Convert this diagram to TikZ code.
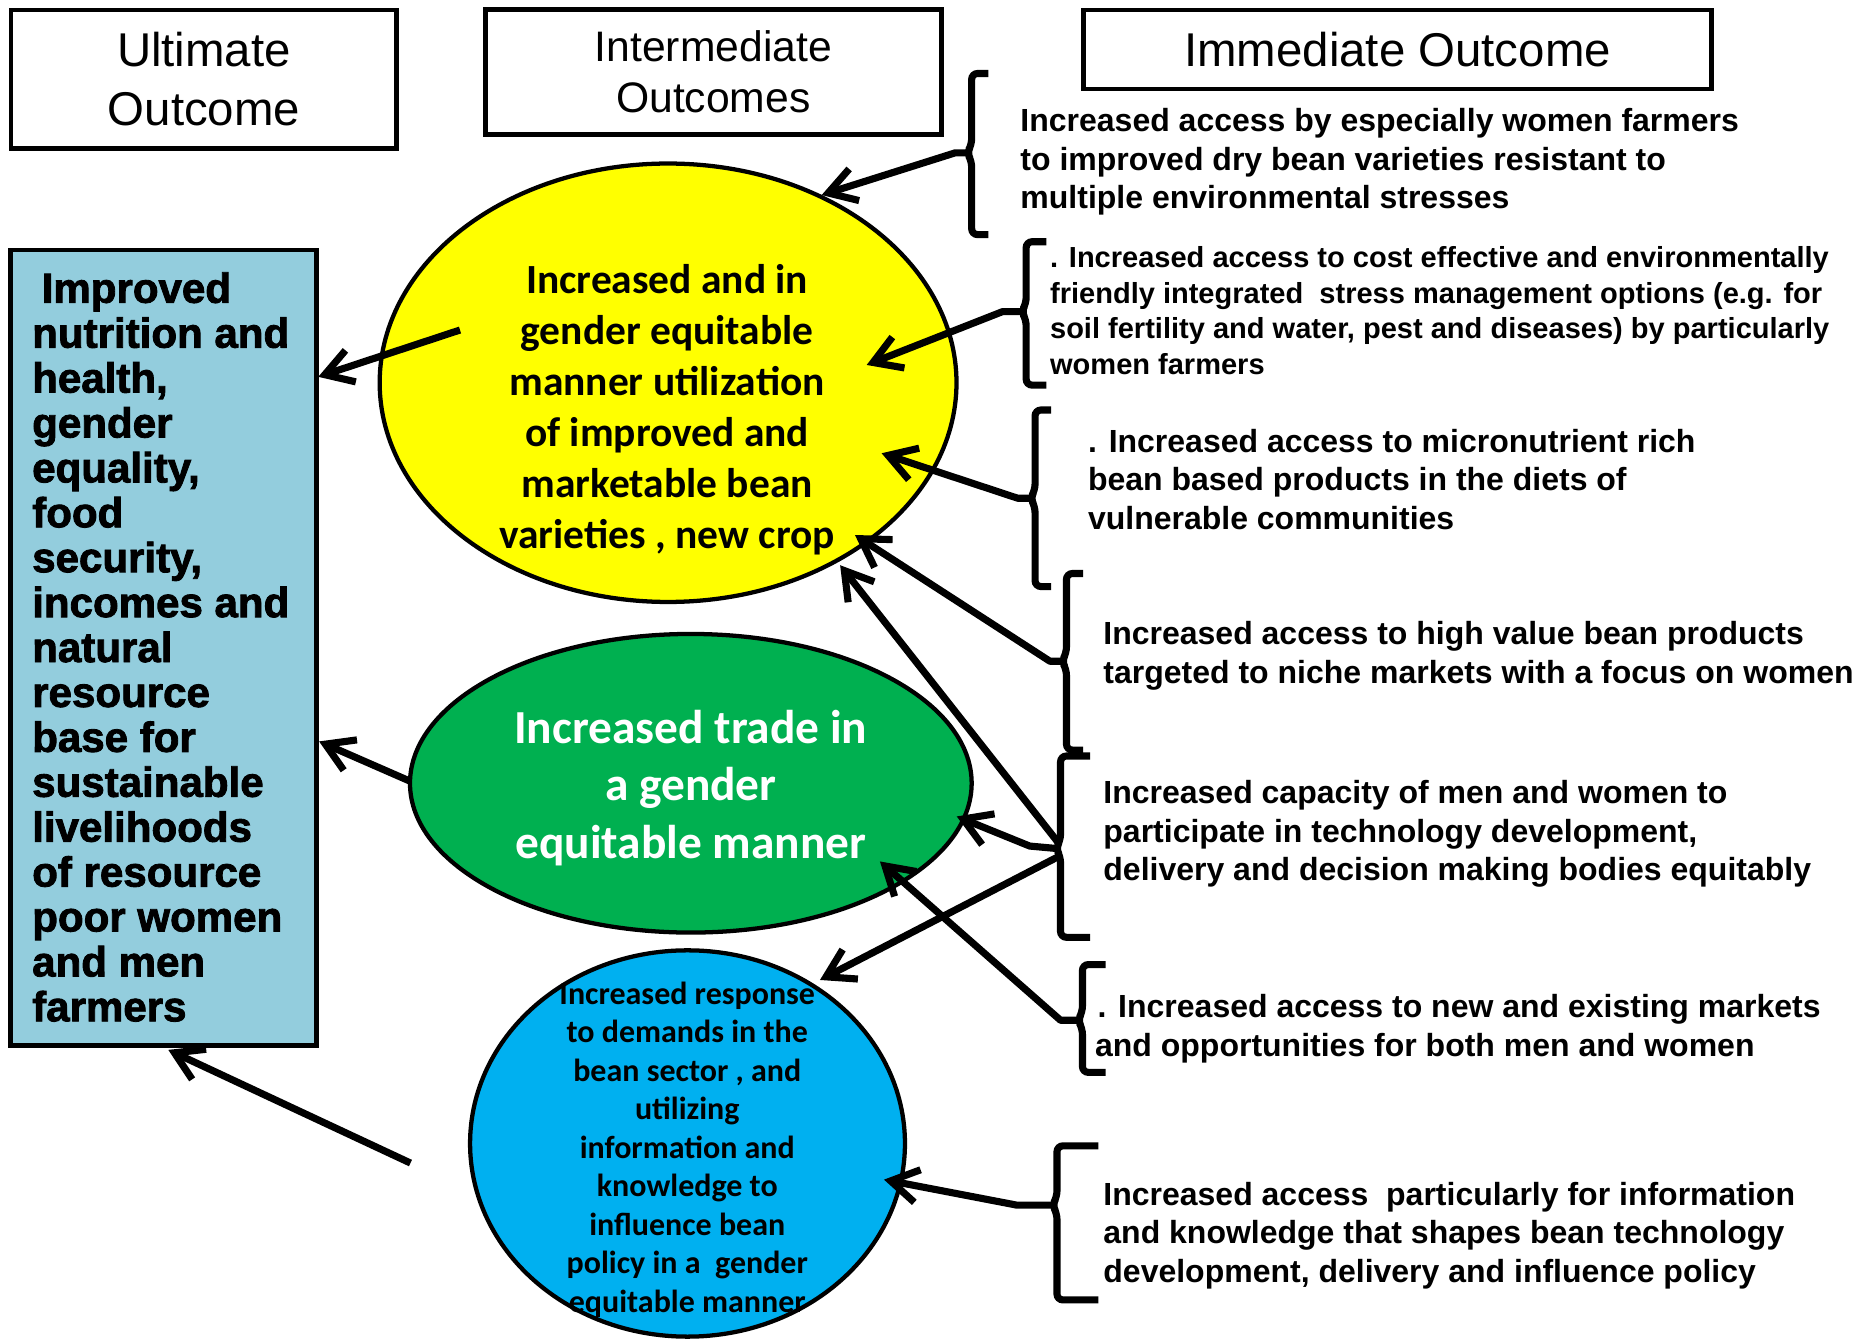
\documentclass[tikz,border=0pt]{standalone}
\usepackage{fontspec}
\setmainfont{Liberation Sans}
\newfontfamily\calfont{Carlito}
\newfontfamily\heavyfont{Liberation Sans Bold}[FakeBold=2]
\usetikzlibrary{arrows.meta,shapes.geometric}
\definecolor{ybg}{HTML}{FFFF00}
\definecolor{gbg}{HTML}{00B050}
\definecolor{bbg}{HTML}{00B0F0}
\definecolor{boxbg}{HTML}{93CDDD}
\newcommand\mybracket[5]{% x, top, bottom, mid, arm end
  \draw[bracestyle] (#5,#2) -- (#1,#2) -- (#1,#4-7) -- (#1-4,#4) -- (#1,#4+7) -- (#1,#3) -- (#5,#3);}
\begin{document}
\begin{tikzpicture}[x=1pt,y=-1pt,
  hdr/.style={draw=black,line width=4pt,inner sep=0,align=center},
  oval/.style={ellipse,draw=black,line width=3.6pt,inner sep=0},
  rtext/.style={anchor=west,align=left,inner sep=0,font=\bfseries\fontsize{27}{32.5}\selectfont},
  ovtext/.style={align=center,inner sep=0},
  bracestyle/.style={line width=6pt,rounded corners=5pt,line cap=butt},
  arr/.style={line width=6pt,line join=round,-{Straight Barb[length=23pt,width=28pt]}}]
\useasboundingbox (0,0) rectangle (1568,1130);

% header boxes
\node[hdr,minimum width=325.6,minimum height=116.7,font=\fontsize{40}{50}\selectfont] (ult) at (172.1,66.7) {Ultimate\\Outcome};
\node[hdr,minimum width=384.5,minimum height=105.2,font=\fontsize{36}{43}\selectfont] (int) at (602,60.9) {Intermediate\\Outcomes};
\node[hdr,minimum width=530.2,minimum height=66.7,font=\fontsize{40}{50}\selectfont] (imm) at (1179.4,41.7) {Immediate Outcome};

% ultimate outcome box
\node[draw=black,line width=4pt,fill=boxbg,minimum width=258.3,minimum height=671,inner sep=0] (ubox) at (138,546.5) {};
\node[anchor=west,align=left,inner sep=0,font=\heavyfont\fontsize{35.5}{37.9}\selectfont] (utext) at (27,546) {\hspace*{8pt}Improved\\nutrition and\\health,\\gender\\equality,\\food\\security,\\incomes and\\natural\\resource\\base for\\sustainable\\livelihoods\\of resource\\poor women\\and men\\farmers};

% ellipses
\node[oval,fill=ybg,minimum width=486.8,minimum height=370] (yel) at (563.8,323) {};
\node[ovtext,font=\calfont\bfseries\fontsize{35}{43}\selectfont] (yeltext) at (563,346) {Increased and in\\gender equitable\\manner utilization\\of improved and\\marketable bean\\varieties , new crop};
\node[oval,fill=gbg,minimum width=474,minimum height=252] (grn) at (583,661) {};
\node[ovtext,text=white,font=\calfont\bfseries\fontsize{40}{48.5}\selectfont] (grntext) at (583,665) {Increased trade in\\a gender\\equitable manner};
\node[oval,fill=bbg,minimum width=367,minimum height=326] (blu) at (580.2,965) {};
\node[ovtext,font=\calfont\bfseries\fontsize{27}{32.5}\selectfont] (blutext) at (580,970) {Increased response\\to demands in the\\bean sector , and\\utilizing\\information and\\knowledge to\\influence bean\\policy in a\ \ gender\\equitable manner};

% immediate outcome texts
\node[rtext] (i1) at (861,136.5) {Increased access by especially women farmers\\to improved dry bean varieties resistant to\\multiple environmental stresses};
\node[rtext,font=\bfseries\fontsize{24.5}{30}\selectfont] (i2) at (886,262) {. Increased access to cost effective and environmentally\\friendly integrated\ \ stress management options (e.g. for\\soil fertility and water, pest and diseases) by particularly\\women farmers};
\node[rtext] (i3) at (918,404.5) {. Increased access to micronutrient rich\\bean based products in the diets of\\vulnerable communities};
\node[rtext] (i4) at (931,553.5) {Increased access to high value bean products\\targeted to niche markets with a focus on women};
\node[rtext] (i5) at (931,704) {Increased capacity of men and women to\\participate in technology development,\\delivery and decision making bodies equitably};
\node[rtext] (i6) at (924,868) {\hspace*{2pt}. Increased access to new and existing markets\\and opportunities for both men and women};
\node[rtext] (i7) at (931,1042.5) {Increased access\ \ particularly for information\\and knowledge that shapes bean technology\\development, delivery and influence policy};

% brackets
\mybracket{820}{62}{198}{129}{834}
\mybracket{866}{204}{325}{263}{883}
\mybracket{873.5}{346}{495}{420.5}{887}
\mybracket{900}{484}{633}{558}{914}
\mybracket{895}{638}{791}{716}{920}
\mybracket{913.5}{814}{905}{861}{933}
\mybracket{892}{967}{1097}{1017}{927}

% connector coordinates
\coordinate (n1) at (816,129); \coordinate (l1) at (806,129); \coordinate (t1) at (693.4,164.6);
\coordinate (n2) at (862,263); \coordinate (l2) at (846,263); \coordinate (t2) at (731.4,308);
\coordinate (n3) at (869,420.5); \coordinate (l3) at (859,420.5); \coordinate (t3) at (744,382.5);
\coordinate (n4) at (896,558); \coordinate (l4) at (886,558); \coordinate (t4) at (721.5,451.5);
\coordinate (n5a) at (893,711); \coordinate (t5a) at (709,477);
\coordinate (n5b) at (891,716); \coordinate (l5b) at (869,714); \coordinate (t5b) at (807.4,689);
\coordinate (n5c) at (893,723); \coordinate (t5c) at (692,827);
\coordinate (n6) at (909,861); \coordinate (l6) at (895,861); \coordinate (t6) at (742.6,727);
\coordinate (n7) at (888,1017); \coordinate (l7) at (858,1017); \coordinate (t7) at (746,995.5);
\coordinate (s1) at (388.2,278.5); \coordinate (tl1) at (268.6,318);
\coordinate (s2) at (346.4,659.4); \coordinate (tl2) at (269.3,625.7);
\coordinate (s3) at (346.4,981.5); \coordinate (tl3) at (142,886);

% arrows
\draw[arr] (n1) -- (l1) -- (t1);
\draw[arr] (n2) -- (l2) -- (t2);
\draw[arr] (n3) -- (l3) -- (t3);
\draw[arr] (n4) -- (l4) -- (t4);
\draw[arr] (n5a) -- (t5a);
\draw[arr] (n5b) -- (l5b) -- (t5b);
\draw[arr] (n5c) -- (t5c);
\draw[arr] (n6) -- (l6) -- (t6);
\draw[arr] (n7) -- (l7) -- (t7);
\draw[arr] (s1) -- (tl1);
\draw[arr] (s2) -- (tl2);
\draw[arr] (s3) -- (tl3);
\end{tikzpicture}
\end{document}
